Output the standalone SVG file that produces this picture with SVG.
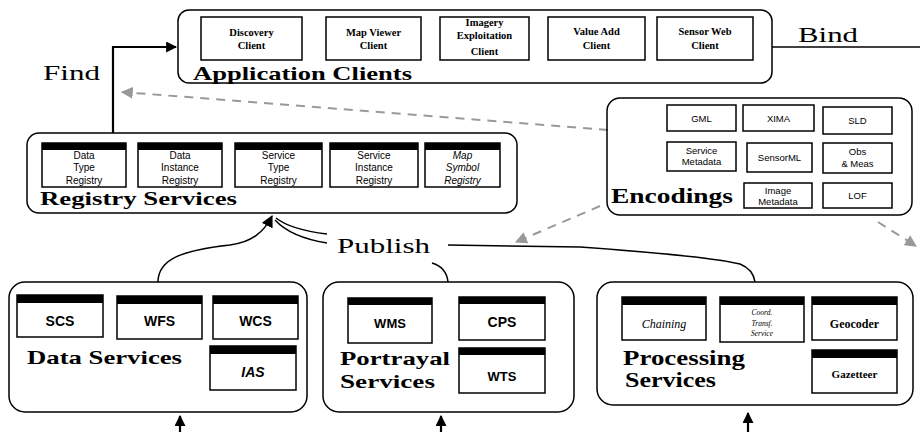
<svg xmlns="http://www.w3.org/2000/svg" width="920" height="432" viewBox="0 0 920 432">
<defs>
<style>
.grp{fill:none;stroke:#000;stroke-width:1.5}
.box{fill:#fff;stroke:#000;stroke-width:1.5}
.bar{fill:#000}
.lbl{font-family:"Liberation Serif",serif;font-weight:bold;font-size:19px;fill:#000}
.verb{font-family:"Liberation Serif",serif;font-size:20px;fill:#000}
.cl{font-family:"Liberation Serif",serif;font-weight:bold;font-size:10.5px;text-anchor:middle;fill:#000}
.rg{font-family:"Liberation Sans",sans-serif;font-size:10px;text-anchor:middle;fill:#000}
.en{font-family:"Liberation Sans",sans-serif;font-size:9.5px;text-anchor:middle;fill:#000}
.sv{font-family:"Liberation Sans",sans-serif;font-weight:bold;font-size:14px;text-anchor:middle;fill:#000}
.ps{font-family:"Liberation Serif",serif;font-size:12px;text-anchor:middle;fill:#000}
.ln{fill:none;stroke:#000;stroke-width:1.5}
.thk{fill:none;stroke:#000;stroke-width:2.2}
.dsh{fill:none;stroke:#999;stroke-width:2;stroke-dasharray:9,7}
</style>
<marker id="ah" viewBox="0 0 10 10" refX="9" refY="5" markerWidth="5" markerHeight="5" orient="auto" markerUnits="strokeWidth"><path d="M0,0 L10,5 L0,10 z" fill="#000"/></marker>
<marker id="ahb" viewBox="0 0 10 10" refX="9" refY="5" markerWidth="8" markerHeight="8" orient="auto" markerUnits="strokeWidth"><path d="M0,0 L10,5 L0,10 z" fill="#000"/></marker>
<marker id="ag" viewBox="0 0 10 10" refX="9" refY="5" markerWidth="6" markerHeight="6" orient="auto" markerUnits="strokeWidth"><path d="M0,0 L10,5 L0,10 z" fill="#999"/></marker>
</defs>
<rect width="920" height="432" fill="#fff"/>

<g id="connectors">
<path class="thk" d="M113,133 V47 H176" marker-end="url(#ah)"/>
<path class="ln" d="M772,47 H920"/>
<path class="dsh" d="M608,130 L122,92" marker-end="url(#ag)"/>
<path class="dsh" d="M600,206 L516,242" marker-end="url(#ag)"/>
<path class="dsh" d="M878,222 L916,246" marker-end="url(#ag)"/>
<path class="ln" d="M158,282 C158,258 185,250 230,245 C252,242 264,232 272,216" marker-end="url(#ahb)"/>
<path class="ln" d="M327,234 C302,231 286,226 276,218"/>
<path class="ln" d="M327,243 C302,239 286,232 275,220"/>
<path class="ln" d="M432,263 C442,266 447,272 448,282"/>
<path class="ln" d="M448,245 L580,247 C650,252 710,257 740,264 C750,268 754,275 755,282"/>
<path class="thk" d="M180,432 V416" marker-end="url(#ah)"/>
<path class="thk" d="M441,432 V416" marker-end="url(#ah)"/>
<path class="thk" d="M748,432 V413" marker-end="url(#ah)"/>
</g>

<text class="verb" x="43" y="80" textLength="57" lengthAdjust="spacingAndGlyphs">Find</text>
<text class="verb" x="798" y="42" textLength="60" lengthAdjust="spacingAndGlyphs">Bind</text>
<text class="verb" x="337" y="253" textLength="93" lengthAdjust="spacingAndGlyphs">Publish</text>

<g id="application-clients">
<rect class="grp" x="178" y="10" width="594" height="73" rx="11"/>
<rect class="box" x="201" y="17" width="101" height="43"/>
<text class="cl" x="251.5" y="36">Discovery</text><text class="cl" x="251.5" y="49">Client</text>
<rect class="box" x="326" y="17" width="95" height="43"/>
<text class="cl" x="373.5" y="36">Map Viewer</text><text class="cl" x="373.5" y="49">Client</text>
<rect class="box" x="440" y="17" width="89" height="43"/>
<text class="cl" x="484.5" y="26">Imagery</text><text class="cl" x="484.5" y="39">Exploitation</text><text class="cl" x="484.5" y="55">Client</text>
<rect class="box" x="548" y="17" width="97" height="43"/>
<text class="cl" x="596.5" y="35">Value Add</text><text class="cl" x="596.5" y="49">Client</text>
<rect class="box" x="657" y="17" width="96" height="43"/>
<text class="cl" x="705" y="35">Sensor Web</text><text class="cl" x="705" y="49">Client</text>
<text class="lbl" x="193" y="80" textLength="219" lengthAdjust="spacingAndGlyphs">Application Clients</text>
</g>

<g id="registry-services">
<rect class="grp" x="27" y="133" width="490" height="80" rx="12"/>
<rect class="box" x="42" y="143" width="84" height="44"/><rect class="bar" x="42" y="143" width="84" height="7"/>
<text class="rg" x="84" y="159">Data</text><text class="rg" x="84" y="171">Type</text><text class="rg" x="84" y="184">Registry</text>
<rect class="box" x="138" y="143" width="84" height="44"/><rect class="bar" x="138" y="143" width="84" height="7"/>
<text class="rg" x="180" y="159">Data</text><text class="rg" x="180" y="171">Instance</text><text class="rg" x="180" y="184">Registry</text>
<rect class="box" x="235" y="143" width="87" height="44"/><rect class="bar" x="235" y="143" width="87" height="7"/>
<text class="rg" x="278.5" y="159">Service</text><text class="rg" x="278.5" y="171">Type</text><text class="rg" x="278.5" y="184">Registry</text>
<rect class="box" x="330" y="143" width="88" height="44"/><rect class="bar" x="330" y="143" width="88" height="7"/>
<text class="rg" x="374" y="159">Service</text><text class="rg" x="374" y="171">Instance</text><text class="rg" x="374" y="184">Registry</text>
<rect class="box" x="425" y="143" width="75" height="44"/><rect class="bar" x="425" y="143" width="75" height="7"/>
<text class="rg" x="462.5" y="159" font-style="italic">Map</text><text class="rg" x="462.5" y="171" font-style="italic">Symbol</text><text class="rg" x="462.5" y="184" font-style="italic">Registry</text>
<text class="lbl" x="40" y="205" textLength="197" lengthAdjust="spacingAndGlyphs">Registry Services</text>
</g>

<g id="encodings">
<rect class="grp" x="607" y="98" width="305" height="117" rx="13"/>
<rect class="box" x="667" y="105" width="69" height="26"/><text class="en" x="701.5" y="122">GML</text>
<rect class="box" x="743" y="105" width="71" height="26"/><text class="en" x="778.5" y="122">XIMA</text>
<rect class="box" x="823" y="107" width="69" height="27"/><text class="en" x="857.5" y="124">SLD</text>
<rect class="box" x="667" y="142" width="69" height="29"/><text class="en" x="701.5" y="154">Service</text><text class="en" x="701.5" y="165">Metadata</text>
<rect class="box" x="747" y="143" width="65" height="29"/><text class="en" x="779.5" y="161">SensorML</text>
<rect class="box" x="823" y="143" width="69" height="30"/><text class="en" x="857.5" y="155">Obs</text><text class="en" x="857.5" y="167">&amp; Meas</text>
<rect class="box" x="744" y="183" width="68" height="25"/><text class="en" x="778" y="194">Image</text><text class="en" x="778" y="205">Metadata</text>
<rect class="box" x="823" y="183" width="69" height="25"/><text class="en" x="857.5" y="199">LOF</text>
<text class="lbl" x="611" y="203" style="font-size:20px" textLength="122" lengthAdjust="spacingAndGlyphs">Encodings</text>
</g>

<g id="data-services">
<rect class="grp" x="9" y="282" width="298" height="130" rx="16"/>
<rect class="box" x="17" y="295" width="86" height="42"/><rect class="bar" x="17" y="295" width="86" height="8"/>
<text class="sv" x="60" y="326">SCS</text>
<rect class="box" x="117" y="296" width="85" height="43"/><rect class="bar" x="117" y="296" width="85" height="8"/>
<text class="sv" x="159.5" y="326">WFS</text>
<rect class="box" x="213" y="296" width="85" height="43"/><rect class="bar" x="213" y="296" width="85" height="8"/>
<text class="sv" x="255.5" y="326">WCS</text>
<rect class="box" x="210" y="346" width="86" height="44"/><rect class="bar" x="210" y="346" width="86" height="8"/>
<text class="sv" x="253" y="377" font-style="italic">IAS</text>
<text class="lbl" x="27" y="364" textLength="155" lengthAdjust="spacingAndGlyphs">Data Services</text>
</g>

<g id="portrayal-services">
<rect class="grp" x="323" y="282" width="251" height="130" rx="16"/>
<rect class="box" x="348" y="298" width="84" height="45"/><rect class="bar" x="348" y="298" width="84" height="7"/>
<text class="sv" x="390" y="328" style="font-size:13px">WMS</text>
<rect class="box" x="459" y="297" width="86" height="43"/><rect class="bar" x="459" y="297" width="86" height="7"/>
<text class="sv" x="502" y="327">CPS</text>
<rect class="box" x="459" y="348" width="86" height="45"/><rect class="bar" x="459" y="348" width="86" height="7"/>
<text class="sv" x="502" y="381" style="font-size:13px">WTS</text>
<text class="lbl" x="340" y="365" textLength="110" lengthAdjust="spacingAndGlyphs">Portrayal</text>
<text class="lbl" x="340" y="388" textLength="95" lengthAdjust="spacingAndGlyphs">Services</text>
</g>

<g id="processing-services">
<rect class="grp" x="597" y="282" width="316" height="123" rx="16"/>
<rect class="box" x="622" y="297" width="84" height="43"/><rect class="bar" x="622" y="297" width="84" height="8"/>
<text class="ps" x="664" y="328" font-style="italic">Chaining</text>
<rect class="box" x="720" y="297" width="84" height="45"/><rect class="bar" x="720" y="297" width="84" height="8"/>
<text class="ps" font-style="italic" style="font-size:7.5px"><tspan x="762" y="315">Coord.</tspan><tspan x="762" y="325.5">Transf.</tspan><tspan x="762" y="336">Service</tspan></text>
<rect class="box" x="812" y="297" width="85" height="43"/><rect class="bar" x="812" y="297" width="85" height="8"/>
<text class="ps" x="854.5" y="328" font-weight="bold">Geocoder</text>
<rect class="box" x="812" y="350" width="85" height="43"/><rect class="bar" x="812" y="350" width="85" height="8"/>
<text class="ps" x="854.5" y="378" font-weight="bold" style="font-size:11px">Gazetteer</text>
<text class="lbl" x="623" y="365" style="font-size:20px" textLength="122" lengthAdjust="spacingAndGlyphs">Processing</text>
<text class="lbl" x="625" y="387" style="font-size:20px" textLength="91" lengthAdjust="spacingAndGlyphs">Services</text>
</g>
</svg>
